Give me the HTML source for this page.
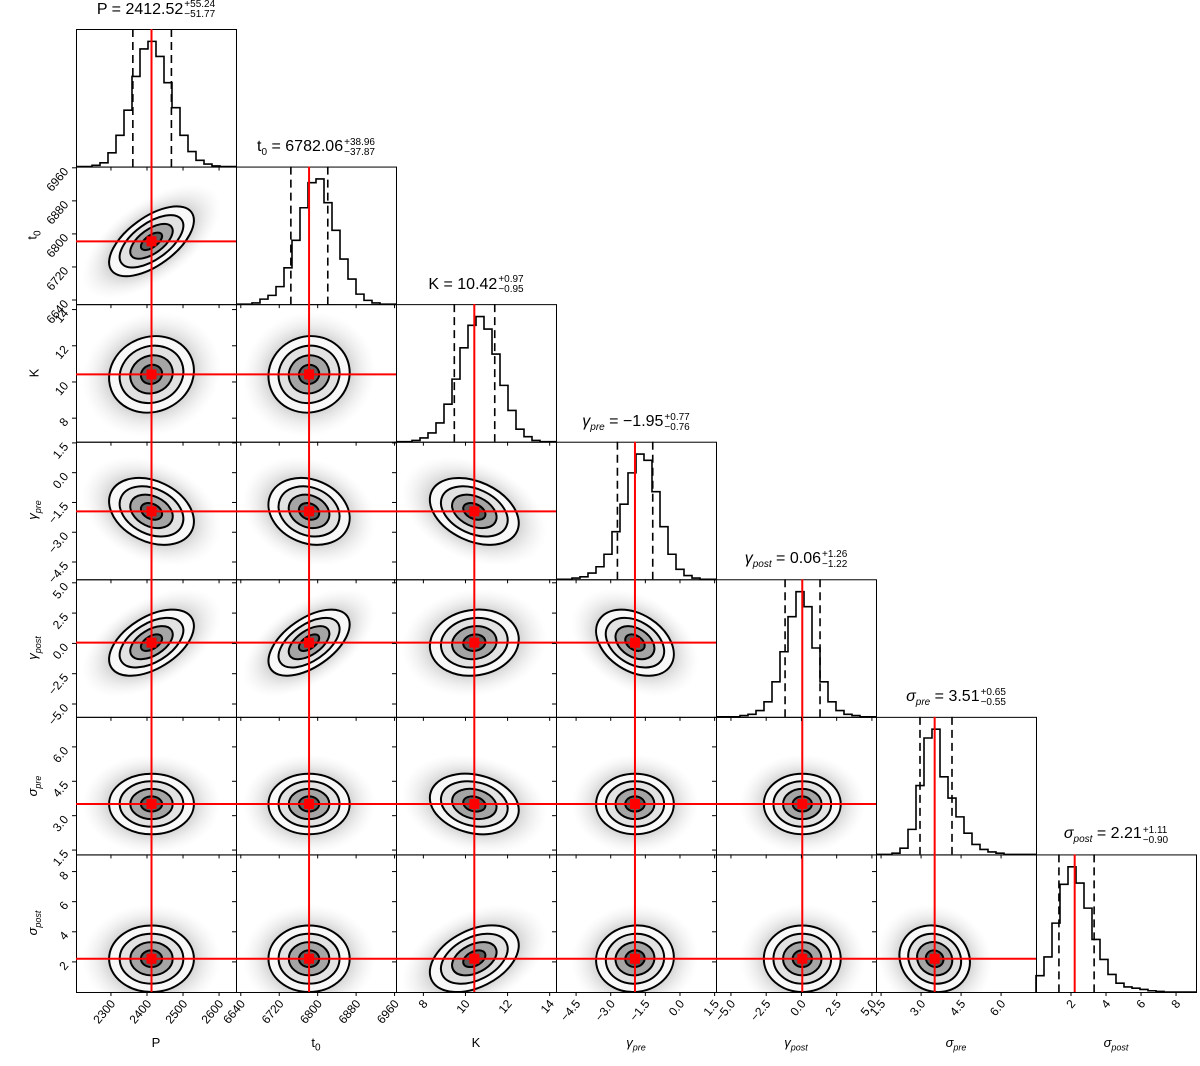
<!DOCTYPE html>
<html><head><meta charset="utf-8">
<style>
html,body{margin:0;padding:0;background:#fff;}
#wrap{position:relative;width:1200px;height:1066px;overflow:hidden;font-family:"Liberation Sans",sans-serif;}
.ttl{position:absolute;font-size:16px;white-space:nowrap;transform:translateX(-50%);display:flex;align-items:center;}
.ss{display:inline-flex;flex-direction:column;font-size:10px;line-height:10px;margin-left:1px;}
.lab{position:absolute;font-size:13px;white-space:nowrap;}
</style></head><body>
<div id="wrap">
<svg id="svg" width="1200" height="1066" style="position:absolute;left:0;top:0"></svg>
</div>
<script>
const names = ["P","t0","K","gpre","gpost","spre","spost"];
const medians = [2412.52, 6782.06, 10.42, -1.95, 0.06, 3.51, 2.21];
const errPlus = [55.24, 38.96, 0.97, 0.77, 1.26, 0.65, 1.11];
const errMinus = [51.77, 37.87, 0.95, 0.76, 1.22, 0.55, 0.90];
const rangeLo = [2203, 6630, 6.7, -5.37, -6.06, 1.31, 0];
const rangeHi = [2647, 6963, 14.3, 1.56, 5.29, 7.31, 9.14];
const ticksP = [2300,2400,2500,2600];
const ticksT0 = [6640,6720,6800,6880,6960];
const ticksK = [8,10,12,14];
const ticksGpre = [-4.5,-3.0,-1.5,0.0,1.5];
const ticksGpost = [-5.0,-2.5,0.0,2.5,5.0];
const ticksSpre = [1.5,3.0,4.5,6.0];
const ticksSpost = [2,4,6,8];
const tickLabelsGpre = ["−4.5","−3.0","−1.5","0.0","1.5"];
const tickLabelsGpost = ["−5.0","−2.5","0.0","2.5","5.0"];
const histP = [0,0,.01,.03,.11,.25,.45,.72,.94,1,.88,.67,.47,.25,.12,.05,.02,.005,0,0];
const histT0 = [0,0,.01,.04,.07,.14,.29,.51,.77,.97,1,.81,.59,.36,.2,.08,.03,.01,0,0];
const histK = [0,0,.01,.03,.07,.15,.3,.5,.75,.93,1,.9,.7,.45,.25,.1,.04,.01,0,0];
const histGpre = [0,0,.01,.02,.05,.1,.2,.38,.6,.85,1,.95,.7,.42,.2,.08,.03,.01,0,0];
const histGpost = [0,0,0,.01,.02,.05,.12,.28,.52,.8,1,.88,.55,.28,.12,.05,.02,.01,0,0];
const histSpre = [0,0,.01,.05,.2,.55,.93,1,.62,.45,.3,.17,.08,.04,.02,.01,0,0,0,0];
const histSpost = [.13,.28,.55,.86,1,.87,.67,.42,.26,.14,.07,.04,.03,.02,.01,.005,0,0,0,0];
const corrRow1 = [0.6];
const corrRow2 = [0.1, 0.05];
const corrRow3 = [-0.3, -0.2, -0.35];
const corrRow4 = [0.5, 0.55, 0.1, -0.35];
const corrRow5 = [0.0, 0.0, -0.2, 0.0, 0.0];
const corrRow6 = [0.0, 0.0, 0.4, 0.05, 0.0, -0.1];

const hists=[histP,histT0,histK,histGpre,histGpost,histSpre,histSpost];
const corrs=[[],corrRow1,corrRow2,corrRow3,corrRow4,corrRow5,corrRow6];
const tickSets=[ticksP,ticksT0,ticksK,ticksGpre,ticksGpost,ticksSpre,ticksSpost];
const tickLabelSets=[ticksP.map(String),ticksT0.map(String),ticksK.map(String),tickLabelsGpre,tickLabelsGpost,ticksSpre.map(v=>v.toFixed(1)),ticksSpost.map(String)];
const titleMain=['P = 2412.52','t<sub style="font-size:10px">0</sub>&nbsp;= 6782.06','K = 10.42','<i>γ<sub style="font-size:10px">pre</sub></i>&nbsp;= −1.95','<i>γ<sub style="font-size:10px">post</sub></i>&nbsp;= 0.06','<i>σ<sub style="font-size:10px">pre</sub></i>&nbsp;= 3.51','<i>σ<sub style="font-size:10px">post</sub></i>&nbsp;= 2.21'];
const axisLabels=['P','t<sub style="font-size:10px">0</sub>','K','<i>γ<sub style="font-size:9px">pre</sub></i>','<i>γ<sub style="font-size:9px">post</sub></i>','<i>σ<sub style="font-size:9px">pre</sub></i>','<i>σ<sub style="font-size:9px">post</sub></i>'];

const L=76, W=160, T=29, H=137.57, N=7;
const NS="http://www.w3.org/2000/svg";
const svg=document.getElementById('svg');
const wrap=document.getElementById('wrap');
function el(tag,attrs,parent){const e=document.createElementNS(NS,tag);for(const k in attrs)e.setAttribute(k,attrs[k]);(parent||svg).appendChild(e);return e;}
function xs(j,v){return L+j*W+(v-rangeLo[j])/(rangeHi[j]-rangeLo[j])*W;}
function ys(i,v){return T+i*H+H-(v-rangeLo[i])/(rangeHi[i]-rangeLo[i])*H;}
function sig(k){return (errPlus[k]+errMinus[k])/2;}

const defs=el('defs',{});
const rg=el('radialGradient',{id:'cloud'},defs);
el('stop',{offset:'0%','stop-color':'#555','stop-opacity':'0.7'},rg);
el('stop',{offset:'55%','stop-color':'#777','stop-opacity':'0.4'},rg);
el('stop',{offset:'80%','stop-color':'#aaa','stop-opacity':'0.18'},rg);
el('stop',{offset:'100%','stop-color':'#ccc','stop-opacity':'0'},rg);

for(let i=1;i<N;i++){for(let j=0;j<i;j++){
  const px=L+j*W, py=T+i*H;
  const g=el('g',{});
  
  
  const cp=el('clipPath',{id:'c'+i+'_'+j},defs);
  el('rect',{x:px,y:py,width:W,height:H},cp);
  const cg=el('g',{'clip-path':'url(#c'+i+'_'+j+')'},g);
  const cx=xs(j,medians[j]), cy=ys(i,medians[i]);
  const sx=sig(j)*W/(rangeHi[j]-rangeLo[j]), sy=sig(i)*H/(rangeHi[i]-rangeLo[i]);
  const rho=corrs[i][j];
  const a=sx*sx, c=sy*sy, b=-rho*sx*sy;
  const m=(a+c)/2, d=Math.sqrt(((a-c)/2)**2+b*b);
  const l1=m+d, l2=Math.max(m-d,1e-6);
  const th=0.5*Math.atan2(2*b,a-c)*180/Math.PI;
  const tr='rotate('+th+' '+cx+' '+cy+')';
  const cl=el('ellipse',{cx:cx,cy:cy,rx:3.6*Math.sqrt(l1),ry:3.6*Math.sqrt(l2),fill:'url(#cloud)',transform:tr},cg);
  
  
  const levels=[2.2,1.65,1.1,0.55];
  const fills=['#f8f8f8','#e2e2e2','#a5a5a5','#5e5e5e'];
  levels.forEach((k,n)=>{
    const e=el('ellipse',{cx:cx,cy:cy,rx:k*Math.sqrt(l1),ry:k*Math.sqrt(l2),fill:fills[n],stroke:'#000','stroke-width':2,transform:tr},cg);
    
    
  });
  el('ellipse',{cx:cx,cy:cy,rx:0.25*Math.sqrt(l1),ry:0.25*Math.sqrt(l2),fill:'#222',transform:tr},cg);
  el('rect',{x:px+0.5,y:py+0.5,width:W,height:H,fill:'none',stroke:'#000','stroke-width':1},g);
}}

for(let k=0;k<N;k++){
  const px=L+k*W, py=T+k*H;
  const g=el('g',{});
  
  
  const h=hists[k], nb=h.length, bw=W/nb;
  let dstr='M'+px+' '+(py+H);
  h.forEach((v,b)=>{const yy=py+H-v*0.91*H;dstr+=' L'+(px+b*bw)+' '+yy+' L'+(px+(b+1)*bw)+' '+yy;});
  dstr+=' L'+(px+W)+' '+(py+H);
  const p=el('path',{d:dstr,fill:'none',stroke:'#000','stroke-width':1.6},g);
  
  
  [medians[k]-errMinus[k],medians[k]+errPlus[k]].forEach(q=>{
    const x=xs(k,q);
    const dl=el('line',{x1:x,x2:x,y1:py,y2:py+H,stroke:'#000','stroke-width':1.6,'stroke-dasharray':'8,5'},g);
    
    
  });
  el('rect',{x:px+0.5,y:py+0.5,width:W,height:H,fill:'none',stroke:'#000','stroke-width':1},g);
}

for(let k=0;k<N;k++){
  const x=xs(k,medians[k]);
  const vl=el('line',{x1:x,x2:x,y1:T+k*H,y2:T+N*H,stroke:'#f00','stroke-width':2});
  
  
  if(k>0){
    const y=ys(k,medians[k]);
    const hl=el('line',{x1:L,x2:L+k*W,y1:y,y2:y,stroke:'#f00','stroke-width':2});
    
    
    for(let j=0;j<k;j++){
      const sq=el('rect',{x:xs(j,medians[j])-5,y:y-5,width:10,height:10,fill:'#f00'});
      
      
    }
  }
}

for(let i=0;i<N;i++){for(let j=0;j<=i;j++){
  const px=L+j*W, py=T+i*H;
  tickSets[j].forEach(v=>{const x=xs(j,v);if(x>=px-1&&x<=px+W+1)el('line',{x1:x,x2:x,y1:py+H,y2:py+H+4,stroke:'#000','stroke-width':1});});
  if(j<i)tickSets[i].forEach(v=>{const y=ys(i,v);if(y>=py-1&&y<=py+H+1)el('line',{x1:px,x2:px-4,y1:y,y2:y,stroke:'#000','stroke-width':1});});
}}
for(let j=0;j<N;j++){
  tickSets[j].forEach((v,n)=>{
    const x=xs(j,v), y=T+N*H+8;
    const t=el('text',{x:x+5,y:y+4,'text-anchor':'end','font-size':12,'font-family':'Liberation Sans, sans-serif',transform:'rotate(-50 '+(x+5)+' '+(y+4)+')'});
    t.textContent=tickLabelSets[j][n];
    
    
  });
}
for(let i=1;i<N;i++){
  tickSets[i].forEach((v,n)=>{
    const y=ys(i,v), x=L-7;
    const t=el('text',{x:x,y:y+4,'text-anchor':'end','font-size':12,'font-family':'Liberation Sans, sans-serif',transform:'rotate(-50 '+x+' '+(y+4)+')'});
    t.textContent=tickLabelSets[i][n];
    
    
  });
}
for(let k=0;k<N;k++){
  const d=document.createElement('div');
  d.className='ttl';
  
  
  d.style.left=(L+k*W+W/2)+'px';
  d.style.top=(T+k*H-29)+'px';
  d.innerHTML='<span>'+titleMain[k]+'</span><span class="ss"><span>+'+errPlus[k].toFixed(2)+'</span><span>−'+errMinus[k].toFixed(2)+'</span></span>';
  wrap.appendChild(d);
}
for(let k=0;k<N;k++){
  const d=document.createElement('div');
  d.className='lab';
  
  
  d.style.left=(L+k*W+W/2)+'px';d.style.top='1035px';d.style.transform='translateX(-50%)';
  d.innerHTML=axisLabels[k];
  wrap.appendChild(d);
  if(k>0){
    const e=document.createElement('div');
    e.className='lab';
    
    
    e.style.left='34px';e.style.top=(T+k*H+H/2)+'px';e.style.transform='translate(-50%,-50%) rotate(-90deg)';
    e.innerHTML=axisLabels[k];
    wrap.appendChild(e);
  }
}
</script>
</body></html>
